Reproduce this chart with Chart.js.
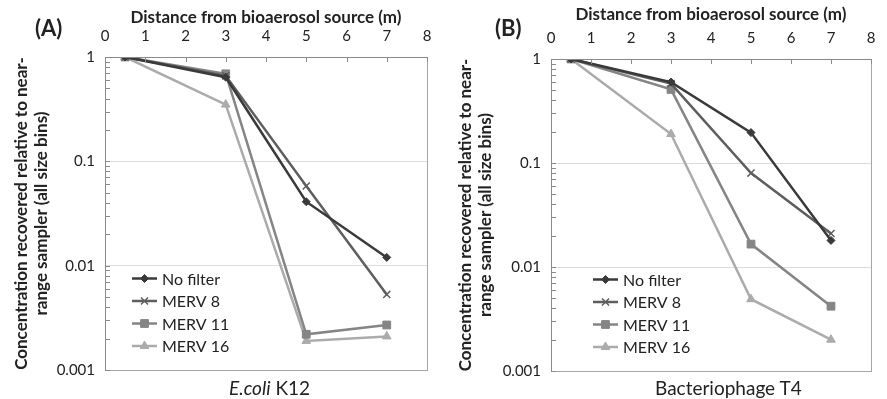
<!DOCTYPE html>
<html>
<head>
<meta charset="utf-8">
<script src="https://cdn.jsdelivr.net/npm/chart.js@4.4.0/dist/chart.umd.min.js"></script>
<style>
  body { margin: 0; background: #fff; font-family: Lato, "Open Sans", sans-serif; }
  #wrap { position: relative; width: 887px; height: 399px; overflow: hidden; }
  .panel { position: absolute; top: 0; height: 399px; }
  .tag { position: absolute; font-weight: bold; font-size: 22px; line-height: 22px; color: #222; }
  .caption { position: absolute; font-size: 19px; line-height: 19px; color: #222; white-space: nowrap; }
</style>
</head>
<body>
<div id="wrap">
  <div class="panel" style="left:0;width:443px"><canvas id="chartA" width="443" height="399"></canvas></div>
  <div class="panel" style="left:443px;width:444px"><canvas id="chartB" width="444" height="399"></canvas></div>
  <div class="tag" style="left:35px;top:17px">(A)</div>
  <div class="tag" style="left:495px;top:17px">(B)</div>
  <div class="caption" style="left:229px;top:378px"><i>E.coli</i> K12</div>
  <div class="caption" style="left:655px;top:378px">Bacteriophage T4</div>
</div>
<script>
// Distances of the samplers (m)
const distance = [0.5, 3, 5, 7];
const seriesNames = ["No filter", "MERV 8", "MERV 11", "MERV 16"];

// (A) E.coli K12
const ecoliNoFilter = [1, 0.64, 0.041, 0.012];
const ecoliMerv8 = [1, 0.66, 0.058, 0.0053];
const ecoliMerv11 = [1, 0.69, 0.0022, 0.0027];
const ecoliMerv16 = [1, 0.35, 0.0019, 0.0021];

// (B) Bacteriophage T4
const t4NoFilter = [1, 0.60, 0.196, 0.018];
const t4Merv8 = [1, 0.58, 0.08, 0.021];
const t4Merv11 = [1, 0.51, 0.0166, 0.0042];
const t4Merv16 = [1, 0.19, 0.0049, 0.0020];

const yTicks = [1, 0.1, 0.01, 0.001];
const xTitle = "Distance from bioaerosol source (m)";
const yTitle = ["Concentration recovered relative to near-", "range sampler (all size bins)"];

const colors = ["#3a3a3a", "#5e5e5e", "#858585", "#ababab"];
const styles = ["rectRot", "crossRot", "rect", "triangle"];
const radii = [4, 5, 5.5, 5];

const FONT = "Lato, 'Open Sans', sans-serif";

function makeDatasets(values) {
  return values.map((vals, i) => ({
    label: seriesNames[i],
    data: distance.map((d, j) => ({ x: d, y: vals[j] })),
    borderColor: colors[i],
    backgroundColor: colors[i],
    borderWidth: 2.5,
    pointStyle: styles[i],
    pointRadius: radii[i],
    pointBorderWidth: i === 1 ? 1.5 : 1,
    pointBackgroundColor: colors[i],
    pointBorderColor: colors[i]
  }));
}

// frame, inner tick marks and the legend inside the plot
const framePlugin = {
  id: "frame",
  afterDatasetsDraw(chart, args, opts) {
    const ctx = chart.ctx;
    const a = chart.chartArea;
    const ys = chart.scales.y;
    const xs = chart.scales.x;
    ctx.save();
    ctx.lineWidth = 1;
    // box
    ctx.strokeStyle = "#a6a6a6";
    ctx.strokeRect(a.left + 0.5, a.top + 0.5, a.right - a.left, a.bottom - a.top);
    ctx.strokeStyle = "#8a8a8a";
    ctx.beginPath();
    ctx.moveTo(a.left + 0.5, a.top);
    ctx.lineTo(a.left + 0.5, a.bottom);
    ctx.moveTo(a.left, a.top + 0.5);
    ctx.lineTo(a.right, a.top + 0.5);
    // minor ticks on the log axis
    [0.001, 0.01, 0.1].forEach(d => {
      for (let k = 1; k <= 9; k++) {
        const py = Math.round(ys.getPixelForValue(d * k)) + 0.5;
        ctx.moveTo(a.left, py);
        ctx.lineTo(a.left + 5, py);
      }
    });
    // ticks on the top axis
    xs.ticks.forEach(t => {
      const px = Math.round(xs.getPixelForValue(t.value)) + 0.5;
      ctx.moveTo(px, a.top);
      ctx.lineTo(px, a.top + 5);
    });
    ctx.stroke();

    // legend
    const n = chart.data.datasets.length;
    chart.data.datasets.forEach((ds, i) => {
      const y = a.bottom - 24 - (n - 1 - i) * 22.5;
      const x0 = a.left + opts.legendX;
      ctx.strokeStyle = ds.borderColor;
      ctx.fillStyle = ds.borderColor;
      ctx.lineWidth = 2.5;
      ctx.beginPath();
      ctx.moveTo(x0, y);
      ctx.lineTo(x0 + 25, y);
      ctx.stroke();
      ctx.lineWidth = ds.pointBorderWidth;
      Chart.helpers.drawPoint(ctx, { pointStyle: ds.pointStyle, radius: ds.pointRadius, rotation: 0, borderWidth: ds.pointBorderWidth }, x0 + 12.5, y);
      ctx.fillStyle = "#222";
      ctx.font = "16px " + FONT;
      ctx.textBaseline = "middle";
      ctx.textAlign = "left";
      ctx.fillText(ds.label, x0 + 30, y + 1);
    });
    ctx.restore();
  }
};

function makeChart(id, values, cfg) {
  return new Chart(document.getElementById(id), {
    type: "line",
    data: { datasets: makeDatasets(values) },
    plugins: [framePlugin],
    options: {
      responsive: false,
      animation: false,
      layout: { padding: { left: 0, top: 0, right: 16, bottom: cfg.bottom } },
      plugins: {
        legend: { display: false },
        tooltip: { enabled: false },
        frame: { legendX: cfg.legendX }
      },
      scales: {
        x: {
          type: "linear",
          position: "top",
          min: 0,
          max: 8,
          afterFit(scale) { scale.height = cfg.top; },
          ticks: { stepSize: 1, color: "#222", font: { family: FONT, size: 15 }, padding: 4 },
          grid: { display: false },
          border: { display: false },
          title: {
            display: true,
            text: xTitle,
            color: "#222",
            font: { family: FONT, size: 17, weight: "bold", lineHeight: 1.2 },
            padding: { top: cfg.xTitlePad, bottom: 0 }
          }
        },
        y: {
          type: "logarithmic",
          min: 0.001,
          max: 1,
          afterBuildTicks(scale) { scale.ticks = yTicks.map(v => ({ value: v })); },
          afterFit(scale) { scale.width = cfg.left; },
          ticks: {
            color: "#222",
            font: { family: FONT, size: 15 },
            padding: 10,
            callback: v => String(v)
          },
          grid: {
            color: ctx => (ctx.tick && (ctx.tick.value === 0.1 || ctx.tick.value === 0.01)) ? "#dcdcdc" : "rgba(0,0,0,0)",
            drawTicks: false
          },
          border: { display: false },
          title: {
            display: true,
            text: yTitle,
            color: "#222",
            font: { family: FONT, size: 17, weight: "bold", lineHeight: 1.18 },
            padding: { top: cfg.yTitlePad, bottom: 0 }
          }
        }
      }
    }
  });
}

makeChart("chartA", [ecoliNoFilter, ecoliMerv8, ecoliMerv11, ecoliMerv16],
  { left: 105, top: 57, bottom: 29, legendX: 27, xTitlePad: 7, yTitlePad: 11, });
makeChart("chartB", [t4NoFilter, t4Merv8, t4Merv11, t4Merv16],
  { left: 108, top: 59, bottom: 28, legendX: 42, xTitlePad: 4, yTitlePad: 12 });
</script>
</body>
</html>
